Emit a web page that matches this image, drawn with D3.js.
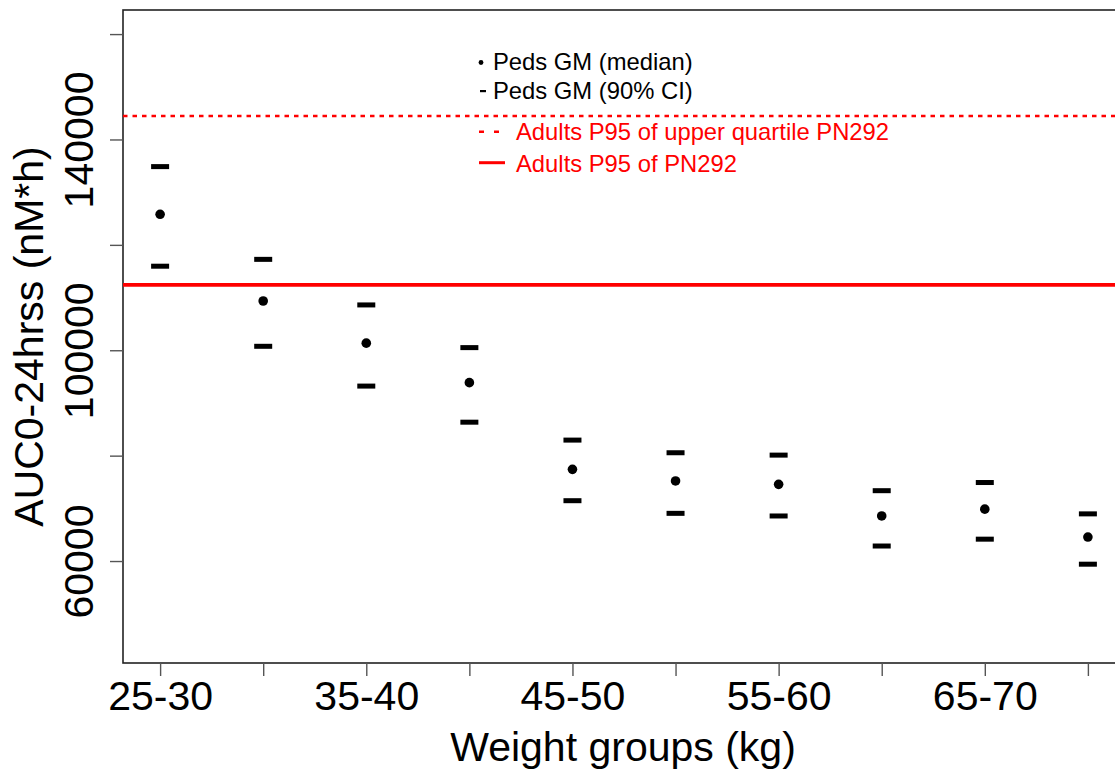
<!DOCTYPE html>
<html>
<head>
<meta charset="utf-8">
<script src="https://cdn.jsdelivr.net/npm/d3@7"></script>
<style>
  html, body { margin: 0; padding: 0; background: #fff; }
  svg { display: block; font-family: "Liberation Sans", Arial, Helvetica, sans-serif; }
</style>
</head>
<body>
<svg id="chart" width="1115" height="770"></svg>
<script>
// Weight groups and pediatric geometric-mean exposure (median and 90% CI)
const weightGroups = ["25-30", "30-35", "35-40", "40-45", "45-50", "50-55", "55-60", "60-65", "65-70", "70-75"];
const medianAUC = [125800, 109350, 101350, 93850, 77400, 75200, 74550, 68550, 69850, 64550];
const ciUpper   = [134850, 117250, 108600, 100500, 82950, 80550, 80100, 73350, 74900, 68950];
const ciLower   = [115950, 100750, 93200, 86350, 71450, 69050, 68550, 62850, 64150, 59400];

// Adult reference levels
const adultP95UpperQuartile = 144450;
const adultP95 = 112400;

// Axis ticks
const yTickValues = [60000, 80000, 100000, 120000, 140000, 160000];
const yTickLabels = [60000, 100000, 140000];
const xTickLabels = ["25-30", "35-40", "45-50", "55-60", "65-70"];

const svg = d3.select("#chart");
const W = 1115, H = 770;
svg.append("rect").attr("width", W).attr("height", H).attr("fill", "#fff");

const plot = { left: 123, right: 1125, top: 10, bottom: 663 };

const x = d3.scaleLinear()
  .domain([0.64, weightGroups.length + 0.36])
  .range([plot.left, plot.right]);
const y = d3.scaleLinear()
  .domain([40650, 164570])
  .range([plot.bottom, plot.top]);

const axisColor = "#222";

// Plot frame
svg.append("rect")
  .attr("x", plot.left).attr("y", plot.top)
  .attr("width", plot.right - plot.left).attr("height", plot.bottom - plot.top)
  .attr("fill", "none").attr("stroke", axisColor).attr("stroke-width", 1.6);

// Y axis
const yAxis = svg.append("g")
  .attr("transform", `translate(${plot.left},0)`)
  .call(d3.axisLeft(y)
    .tickValues(yTickValues)
    .tickSize(13)
    .tickFormat(d => yTickLabels.includes(d) ? String(d) : ""));
yAxis.select(".domain").remove();
yAxis.selectAll(".tick line").attr("stroke", "#555").attr("stroke-width", 1.4);
yAxis.selectAll(".tick text")
  .attr("transform", "rotate(-90)")
  .attr("x", 0).attr("y", -30).attr("dy", 0)
  .attr("text-anchor", "middle")
  .attr("fill", "#000")
  .style("font-size", "41px");

// X axis
const xAxis = svg.append("g")
  .attr("transform", `translate(0,${plot.bottom})`)
  .call(d3.axisBottom(x)
    .tickValues(d3.range(1, weightGroups.length + 1))
    .tickSize(13)
    .tickFormat(i => xTickLabels.includes(weightGroups[i - 1]) ? weightGroups[i - 1] : ""));
xAxis.select(".domain").remove();
xAxis.selectAll(".tick line").attr("stroke", "#555").attr("stroke-width", 1.4);
xAxis.selectAll(".tick text")
  .attr("y", 47).attr("dy", 0)
  .attr("fill", "#000")
  .style("font-size", "41px");

// Axis titles
svg.append("text")
  .attr("transform", `translate(43,${(plot.top + plot.bottom) / 2}) rotate(-90)`)
  .attr("text-anchor", "middle")
  .style("font-size", "41px")
  .text("AUC0-24hrss (nM*h)");
svg.append("text")
  .attr("x", (plot.left + 1125) / 2 - 1).attr("y", 761)
  .attr("text-anchor", "middle")
  .style("font-size", "41px")
  .text("Weight groups (kg)");

// Clip for content inside the plot region
svg.append("clipPath").attr("id", "plotClip")
  .append("rect")
  .attr("x", plot.left).attr("y", plot.top)
  .attr("width", plot.right - plot.left).attr("height", plot.bottom - plot.top);
const content = svg.append("g").attr("clip-path", "url(#plotClip)");

// Adult reference lines
content.append("line")
  .attr("x1", plot.left).attr("x2", plot.right)
  .attr("y1", y(adultP95UpperQuartile)).attr("y2", y(adultP95UpperQuartile))
  .attr("stroke", "#ff0000").attr("stroke-width", 2.6)
  .attr("stroke-dasharray", "4.5,5");
content.append("line")
  .attr("x1", plot.left).attr("x2", plot.right)
  .attr("y1", y(adultP95)).attr("y2", y(adultP95))
  .attr("stroke", "#ff0000").attr("stroke-width", 3.8);

// CI bounds as short bars
const barW = 18, barH = 5;
const ciData = weightGroups.flatMap((g, i) => [
  { i: i + 1, v: ciUpper[i] },
  { i: i + 1, v: ciLower[i] }
]);
content.selectAll("rect.ci")
  .data(ciData)
  .join("rect")
  .attr("class", "ci")
  .attr("x", d => x(d.i) - barW / 2)
  .attr("y", d => y(d.v) - barH / 2)
  .attr("width", barW).attr("height", barH)
  .attr("fill", "#000");

// Medians as dots
content.selectAll("circle.med")
  .data(medianAUC)
  .join("circle")
  .attr("class", "med")
  .attr("cx", (d, i) => x(i + 1))
  .attr("cy", d => y(d))
  .attr("r", 4.8)
  .attr("fill", "#000");

// Legend
const leg = svg.append("g").style("font-size", "23.8px");
leg.append("circle").attr("cx", 481).attr("cy", 62.5).attr("r", 2.4).attr("fill", "#000");
leg.append("text").attr("x", 493).attr("y", 69.5).attr("fill", "#000").text("Peds GM (median)");
leg.append("rect").attr("x", 480).attr("y", 90).attr("width", 6).attr("height", 2.2).attr("fill", "#000");
leg.append("text").attr("x", 493).attr("y", 98.5).attr("fill", "#000").text("Peds GM (90% CI)");

leg.append("line").attr("x1", 479).attr("x2", 500).attr("y1", 131.7).attr("y2", 131.7)
  .attr("stroke", "#ff0000").attr("stroke-width", 2.6).attr("stroke-dasharray", "5,10");
leg.append("text").attr("x", 516).attr("y", 140).attr("fill", "#ff0000")
  .text("Adults P95 of upper quartile PN292");
leg.append("line").attr("x1", 479).attr("x2", 505).attr("y1", 162.7).attr("y2", 162.7)
  .attr("stroke", "#ff0000").attr("stroke-width", 3);
leg.append("text").attr("x", 516).attr("y", 171.5).attr("fill", "#ff0000")
  .text("Adults P95 of PN292");
</script>
</body>
</html>
